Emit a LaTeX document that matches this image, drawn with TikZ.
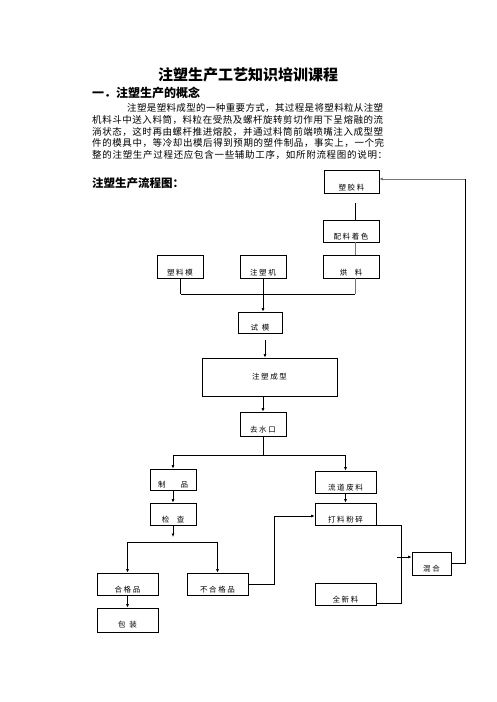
\documentclass[tikz,border=0pt]{standalone}
\usepackage{fontspec}
\setmainfont{Noto Sans CJK SC}
\newfontfamily\boxfont[LetterSpace=22]{Noto Sans CJK SC}
\usetikzlibrary{arrows.meta}
\def\sprA#1{\ifx\relax#1\else #1\expandafter\sprB\fi}
\def\sprB#1{\ifx\relax#1\else\hfil #1\expandafter\sprB\fi}
\newcommand{\jline}[2]{\hbox to #1{\sprA #2\relax}}
\begin{document}
\begin{tikzpicture}[x=1pt,y=-1pt,
  box/.style={draw,line width=0.7pt,inner sep=0pt},
  lab/.style={font=\boxfont\fontsize{7.5}{8.5}\selectfont,text=black,inner sep=0pt},
  para/.style={font=\fontsize{9.5}{11}\selectfont,inner sep=0pt,anchor=west},
  wire/.style={line width=0.7pt},
  gwire/.style={line width=0.8pt,draw=black!55},
  arr/.style={wire,-{Latex[length=3.5pt,width=3pt]}},
  garr/.style={gwire,-{Latex[length=3.5pt,width=3pt]}}]
\useasboundingbox (0,0) rectangle (496,702);
\fill[white] (0,0) rectangle (496,702);
% texts
\node[font=\bfseries\fontsize{15}{17}\selectfont,inner sep=0pt] (title) at (248,75) {注塑生产工艺知识培训课程};
\node[font=\bfseries\fontsize{12}{14}\selectfont,inner sep=0pt,anchor=west] (head) at (92,93) {一．注塑生产的概念};
\node[para] (p1) at (127,108) {\jline{256pt}{注塑是塑料成型的一种重要方式，其过程是将塑料粒从注塑}};
\node[para] (p2) at (92,120) {\jline{291pt}{机料斗中送入料筒，料粒在受热及螺杆旋转剪切作用下呈熔融的流}};
\node[para] (p3) at (92,131.5) {\jline{291pt}{淌状态，这时再由螺杆推进熔胶，并通过料筒前端喷嘴注入成型塑}};
\node[para] (p4) at (92,143) {\jline{292pt}{件的模具中，等冷却出模后得到预期的塑件制品，事实上，一个完}};
\node[para] (p5) at (92,154.5) {\jline{295pt}{整的注塑生产过程还应包含一些辅助工序，如所附流程图的说明：}};
\node[font=\bfseries\fontsize{11.5}{13}\selectfont,inner sep=0pt,anchor=west] (flow) at (92,183) {注塑生产流程图：};
% boxes
\node[box,minimum width=55pt,minimum height=23pt] (sjl) at (351.5,181.5) {};
\node[box,minimum width=56pt,minimum height=22pt] (plzs) at (351,231) {};
\node[box,minimum width=56pt,minimum height=23pt] (hl) at (351,266.5) {};
\node[box,minimum width=46pt,minimum height=23pt] (slm) at (180,266.5) {};
\node[box,minimum width=46pt,minimum height=23pt] (zsj) at (263,266.5) {};
\node[box,minimum width=44pt,minimum height=21pt] (sm) at (260,322.5) {};
\node[box,minimum width=135pt,minimum height=38pt] (zscx) at (269.5,377) {};
\node[box,minimum width=46pt,minimum height=24pt] (qsk) at (263,424) {};
\node[box,minimum width=46pt,minimum height=21pt] (zp) at (173,479.5) {};
\node[box,minimum width=46pt,minimum height=22pt] (jc) at (173,514) {};
\node[box,minimum width=61pt,minimum height=22pt] (hgp) at (127.5,584) {};
\node[box,minimum width=61pt,minimum height=22pt] (bhgp) at (217.5,584) {};
\node[box,minimum width=61pt,minimum height=24pt] (bz) at (127.5,620) {};
\node[box,minimum width=61pt,minimum height=22pt] (ldfl) at (345.5,482) {};
\node[box,minimum width=61pt,minimum height=22pt] (dlfs) at (345.5,514) {};
\node[box,minimum width=61pt,minimum height=22pt] (qxl) at (345.5,594) {};
\node[box,minimum width=39pt,minimum height=23pt] (hh) at (431.5,563.5) {};
% labels
\node[lab] (tsjl) at ([yshift=6pt]sjl.south) {塑胶料};
\node[lab] (tplzs) at ([yshift=6pt]plzs.south) {配料着色};
\node[lab] (thl) at ([yshift=6pt]hl.south) {烘\quad 料};
\node[lab] (tslm) at ([yshift=6pt]slm.south) {塑料模};
\node[lab] (tzsj) at ([yshift=6pt]zsj.south) {注塑机};
\node[lab] (tsm) at ([yshift=6pt]sm.south) {试\enspace 模};
\node[lab] (tzscx) at (zscx.center) {注塑成型};
\node[lab] (tqsk) at ([yshift=7pt]qsk.south) {去水口};
\node[lab] (tzp) at ([yshift=6pt]zp.south) {制\qquad 品};
\node[lab] (tjc) at ([yshift=6pt]jc.south) {检\quad 查};
\node[lab] (thgp) at ([yshift=6pt]hgp.south) {合格品};
\node[lab] (tbhgp) at ([yshift=6pt]bhgp.south) {不合格品};
\node[lab] (tbz) at ([yshift=8pt]bz.south) {包\enspace 装};
\node[lab] (tldfl) at ([yshift=6pt]ldfl.south) {流道废料};
\node[lab] (tdlfs) at ([yshift=6pt]dlfs.south) {打料粉碎};
\node[lab] (tqxl) at ([yshift=6pt]qxl.south) {全新料};
\node[lab] (thh) at ([yshift=7pt]hh.south) {混合};
% connectors
\coordinate (c1) at (355,203);
\draw[wire] (c1) -- (c1 |- plzs.north);
\draw[gwire] (plzs.south -| c1) -- (hl.north -| c1);
\coordinate (busL) at (181,294);
\coordinate (busR) at (355,294);
\draw[wire] (busL) -- (busR);
\draw[wire] (slm.south) -- (slm.south |- busL);
\draw[gwire] (hl.south -| c1) -- (busR);
\draw[arr] (zsj.south) -- (zsj.south |- sm.north);
\coordinate (c2) at (265,340);
\draw[arr] (c2) -- (c2 |- zscx.north);
\draw[arr] (zscx.south -| qsk.north) -- (qsk.north);
\coordinate (b2) at (263,455);
\draw[wire] (qsk.south) -- (b2);
\draw[wire] (zp.north |- b2) -- (ldfl.north |- b2);
\draw[arr] (zp.north |- b2) -- (zp.north);
\draw[arr] (ldfl.north |- b2) -- (ldfl.north);
\draw[arr] (zp.south) -- (jc.north);
\coordinate (c3) at (173,537);
\draw[arr] (jc.south) -- (c3);
\coordinate (b3) at (0,542);
\draw[wire] (hgp.north |- b3) -- (bhgp.north |- b3);
\draw[arr] (hgp.north |- b3) -- (hgp.north);
\draw[arr] (bhgp.north |- b3) -- (bhgp.north);
\draw[arr] (hgp.south) -- (bz.north);
\coordinate (c4) at (274,516);
\draw[wire] (bhgp.east) -| (c4);
\draw[arr] (c4) -- (c4 -| dlfs.west);
\draw[arr] (ldfl.south) -- (dlfs.north);
\coordinate (c5) at (401,557);
\coordinate (q1) at ([yshift=2pt]qxl.south east);
\draw[wire] (dlfs.south east) -- (dlfs.south east -| c5) -- (q1 -| c5) -- (q1);
\draw[arr] ([xshift=-4pt]c5) -- (c5 -| hh.west);
\coordinate (c6) at (465,179);
\draw[wire] (hh.east) -- (hh.east -| c6) -- (c6);
\draw[garr] (c6) -- (c6 -| sjl.east);
\end{tikzpicture}
\end{document}
